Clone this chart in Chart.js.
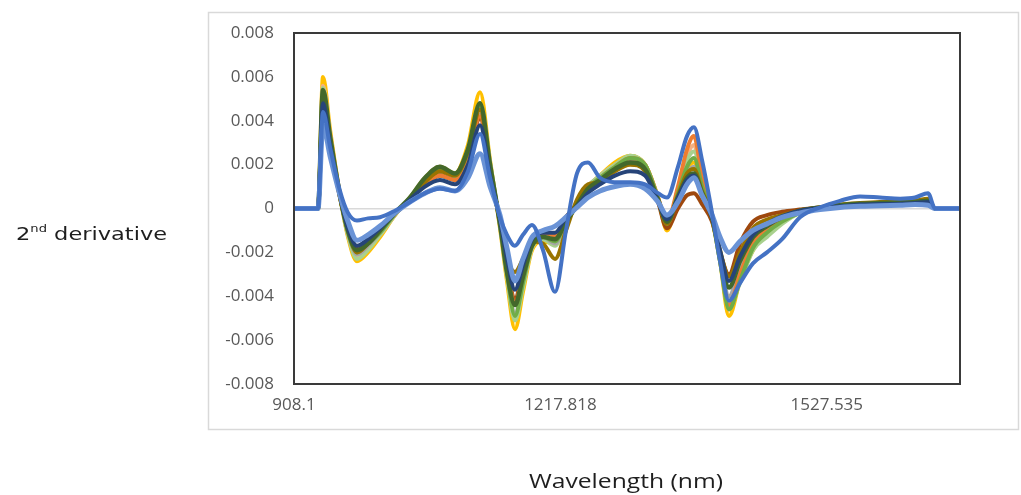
<!DOCTYPE html>
<html><head><meta charset="utf-8">
<script src="https://cdn.jsdelivr.net/npm/chart.js@4/dist/chart.umd.min.js"></script>
<style>html,body{margin:0;padding:0;background:#fff;}canvas{display:block;}</style>
</head><body>
<canvas id="c" width="1021" height="495"></canvas>
<script>
// ---- data ----
const wavelengths = [908.1, 936.0, 941.8, 950.0, 961.6, 970.9, 981.3, 994.1, 1008.1, 1025.5,
  1043.0, 1060.4, 1077.8, 1095.3, 1110.4, 1124.4, 1136.0, 1147.6, 1155.7, 1165.0,
  1174.3, 1184.8, 1197.6, 1211.6, 1224.3, 1237.1, 1249.9, 1263.9, 1281.3, 1298.8,
  1316.2, 1331.3, 1341.7, 1354.5, 1365.0, 1373.1, 1382.5, 1394.1, 1403.4, 1413.8,
  1426.6, 1441.7, 1458.0, 1475.5, 1496.4, 1519.7, 1542.9, 1566.2, 1589.4, 1612.7,
  1630.1, 1645.2, 1653.4, 1682.4];
const xTickValues = [908.1, 1217.818, 1527.535];
const xTickLabels = ['908.1', '1217.818', '1527.535'];
const yTickValues = [-0.008, -0.006, -0.004, -0.002, 0, 0.002, 0.004, 0.006, 0.008];
const yTickLabels = ['-0.008', '-0.006', '-0.004', '-0.002', '0', '0.002', '0.004', '0.006', '0.008'];

const sampleOutlier = [0,0,0.0044,0.0028,0.0008,-0.0002,-0.00055,-0.00045,-0.0004,-0.0001,
  0.0003,0.0007,0.0009,0.0008,0.0017,0.0034,0.0014,-0.0004,-0.0012,-0.0017,
  -0.0012,-0.00075,-0.0019,-0.0038,-0.001,0.0016,0.0021,0.0014,0.0012,0.0012,
  0.0011,0.0007,0.0005,0.0019,0.0033,0.0037,0.0022,-0.0002,-0.0024,-0.0042,
  -0.0034,-0.0025,-0.002,-0.0014,-0.0004,0.00005,0.00035,0.00055,0.0005,0.00045,
  0.0005,0.0007,0,0];
const sampleFront = [0,0,0.0038,0.0024,0.0006,-0.0006,-0.00145,-0.0012,-0.0008,-0.0002,
  0.0003,0.0007,0.00095,0.0008,0.0014,0.0025,0.001,-0.0003,-0.0018,-0.0033,
  -0.0023,-0.0013,-0.001,-0.0008,-0.0004,0.00005,0.0005,0.0008,0.001,0.0011,
  0.0009,0.0003,-0.0003,0.0003,0.0011,0.0014,0.0006,-0.0003,-0.0013,-0.002,
  -0.0015,-0.001,-0.0007,-0.0004,-0.0002,-0.00005,0.00005,0.0001,0.00012,0.00015,
  0.00018,0.00015,0,0];
const sampleDarkBlue = [0,0,0.0048,0.0029,0.0006,-0.0009,-0.0017,-0.0014,-0.0009,-0.0002,
  0.0004,0.001,0.0013,0.0011,0.002,0.0038,0.0015,-0.0005,-0.0023,-0.0037,
  -0.0026,-0.0014,-0.0011,-0.0011,-0.0004,0.0001,0.0007,0.0011,0.0015,0.0017,
  0.0015,0.0003,-0.0005,0.0005,0.0013,0.0015,0.0006,-0.0004,-0.0019,-0.0033,
  -0.0022,-0.0012,-0.0007,-0.00035,-0.0001,0.00002,0.0001,0.00018,0.0002,0.00022,
  0.00025,0.0003,0,0];
const sampleDarkGreen = [0,0,0.0054,0.0033,0.0006,-0.001,-0.0019,-0.0016,-0.001,-0.0002,
  0.0005,0.0014,0.0019,0.0016,0.0027,0.0048,0.002,-0.0007,-0.0029,-0.0044,
  -0.0031,-0.0017,-0.0013,-0.0014,-0.0006,0.00015,0.0009,0.0013,0.0018,0.0021,
  0.0018,0.0004,-0.0006,0.0005,0.0014,0.0016,0.0007,-0.0004,-0.0021,-0.0036,
  -0.0024,-0.0013,-0.0008,-0.0004,-0.0001,0.00005,0.00015,0.00022,0.00025,0.00027,
  0.0003,0.00035,0,0];
const sampleOlive = [0,0,0.005,0.003,0.0005,-0.001,-0.002,-0.0016,-0.001,-0.0002,
  0.0004,0.0012,0.0017,0.0015,0.0026,0.0045,0.0018,-0.0006,-0.0022,-0.0029,
  -0.0023,-0.0015,-0.0016,-0.0023,-0.001,0.0004,0.0011,0.0012,0.0017,0.002,
  0.0017,0.0004,-0.0007,0.0006,0.0016,0.0018,0.0008,-0.0003,-0.0019,-0.0031,
  -0.002,-0.0009,-0.0005,-0.0003,-0.0001,0.00005,0.00018,0.00025,0.0003,0.00032,
  0.00035,0.00045,0,0];
const sampleGreen = [0,0,0.0053,0.0032,0.0006,-0.0011,-0.002,-0.0016,-0.0011,-0.00025,
  0.00045,0.0013,0.0018,0.0015,0.0026,0.0046,0.0019,-0.0007,-0.0029,-0.0049,
  -0.0034,-0.0017,-0.0013,-0.0015,-0.0006,0.0002,0.00095,0.0014,0.0019,0.0023,
  0.002,0.00045,-0.0007,0.0007,0.0019,0.0023,0.001,-0.0004,-0.0024,-0.0046,
  -0.0033,-0.0018,-0.0011,-0.0006,-0.0002,0,0.00012,0.0002,0.00022,0.00025,
  0.00028,0.0003,0,0];
const sampleOrange = [0,0,0.0051,0.0031,0.0006,-0.001,-0.0019,-0.0015,-0.001,-0.00025,
  0.0004,0.0011,0.0015,0.0013,0.0023,0.0042,0.0017,-0.0006,-0.0026,-0.0043,
  -0.0029,-0.0014,-0.0011,-0.0012,-0.0005,0.0002,0.0009,0.0014,0.0019,0.0023,
  0.002,0.0005,-0.0006,0.001,0.0027,0.0033,0.0014,-0.0003,-0.0023,-0.0044,
  -0.003,-0.0016,-0.0009,-0.0005,-0.00015,0.00002,0.0001,0.00018,0.0002,0.00022,
  0.00025,0.0003,0,0];
const sampleBrown = [0,0,0.0049,0.0029,0.0005,-0.0009,-0.0018,-0.0014,-0.0009,-0.0002,
  0.0004,0.0011,0.0015,0.0013,0.0023,0.0041,0.0017,-0.0006,-0.0026,-0.0041,
  -0.0028,-0.0014,-0.0011,-0.0012,-0.0004,0.0002,0.0009,0.0013,0.0018,0.0021,
  0.0018,0.0003,-0.0009,0,0.0006,0.0007,0.0002,-0.0006,-0.002,-0.003,
  -0.0016,-0.0006,-0.0003,-0.00015,-0.00005,0.00005,0.00012,0.00018,0.0002,0.00022,
  0.00025,0.0003,0,0];
const sampleGray = [0,0,0.0052,0.0032,0.0006,-0.0011,-0.0021,-0.0017,-0.0011,-0.00025,
  0.00045,0.0012,0.0016,0.0014,0.0024,0.0043,0.0018,-0.0007,-0.0028,-0.0048,
  -0.0033,-0.0017,-0.0013,-0.0016,-0.0006,0.00015,0.0009,0.0013,0.0018,0.0021,
  0.0018,0.0004,-0.0008,0.0006,0.0016,0.0019,0.0008,-0.0004,-0.0022,-0.004,
  -0.0027,-0.0015,-0.0009,-0.0005,-0.00015,0.00003,0.00012,0.0002,0.00022,0.00025,
  0.00027,0.00032,0,0];
const sampleLightGreen = [0,0,0.0055,0.0033,0.0005,-0.0012,-0.0023,-0.0019,-0.0012,-0.0003,
  0.0005,0.0013,0.0018,0.0015,0.0027,0.0048,0.0021,-0.0008,-0.0031,-0.0051,
  -0.0036,-0.0018,-0.0014,-0.0017,-0.0006,0.0002,0.001,0.0015,0.002,0.0024,
  0.002,0.0005,-0.0008,0.0008,0.0022,0.0026,0.0012,-0.0004,-0.0024,-0.0045,
  -0.0034,-0.0019,-0.0013,-0.0007,-0.0002,0,0.00012,0.0002,0.00022,0.00025,
  0.00028,0.0003,0,0];
const samplePeach = [0,0,0.0056,0.0034,0.0006,-0.0012,-0.0022,-0.0018,-0.0012,-0.0003,
  0.0005,0.0013,0.0018,0.0015,0.0026,0.0046,0.002,-0.0008,-0.003,-0.005,
  -0.0035,-0.0018,-0.0014,-0.0015,-0.0006,0.0002,0.001,0.0015,0.002,0.0023,
  0.002,0.0005,-0.0008,0.0009,0.0024,0.0029,0.0012,-0.0004,-0.0023,-0.0046,
  -0.0032,-0.0017,-0.001,-0.0005,-0.00015,0.00005,0.00015,0.0002,0.00022,0.00025,
  0.00028,0.00035,0,0];
const sampleGold = [0,0,0.006,0.0036,0.0006,-0.0013,-0.0024,-0.002,-0.0013,-0.0003,
  0.0005,0.0014,0.0019,0.0016,0.0029,0.0053,0.0022,-0.0009,-0.0033,-0.0055,
  -0.0038,-0.0019,-0.0015,-0.0016,-0.0007,0.0002,0.001,0.0015,0.0021,0.0024,
  0.002,0.0005,-0.001,0.0006,0.0018,0.0021,0.0009,-0.0005,-0.0024,-0.0049,
  -0.0033,-0.0019,-0.0011,-0.0005,-0.00015,0.00005,0.00015,0.00022,0.00025,0.00028,
  0.0003,0.0004,0,0];

// ---- styling (first entry drawn on top) ----
const seriesList = [
  { name: 'Sample 1', values: sampleOutlier, color: '#4472C4', width: 4 },
  { name: 'Sample 2', values: sampleFront, color: '#6A93D6', width: 5 },
  { name: 'Sample 3', values: sampleDarkBlue, color: '#264478', width: 4 },
  { name: 'Sample 4', values: sampleDarkGreen, color: '#43682B', width: 4.5 },
  { name: 'Sample 5', values: sampleOlive, color: '#997300', width: 4 },
  { name: 'Sample 6', values: sampleGreen, color: '#70AD47', width: 4 },
  { name: 'Sample 7', values: sampleOrange, color: '#ED7D31', width: 4 },
  { name: 'Sample 8', values: sampleBrown, color: '#9E480E', width: 4 },
  { name: 'Sample 9', values: sampleGray, color: '#A5A5A5', width: 4 },
  { name: 'Sample 10', values: sampleLightGreen, color: '#A9D18E', width: 4 },
  { name: 'Sample 11', values: samplePeach, color: '#F4B183', width: 4 },
  { name: 'Sample 12', values: sampleGold, color: '#FFC000', width: 4 }
];

const datasets = seriesList.map(s => ({
  label: s.name,
  data: wavelengths.map((w, i) => ({ x: w, y: s.values[i] })),
  borderColor: s.color,
  backgroundColor: s.color,
  borderWidth: s.width,
  pointRadius: 0,
  fill: false,
  cubicInterpolationMode: 'monotone',
  borderJoinStyle: 'round',
  borderCapStyle: 'round'
}));

const framePlugin = {
  id: 'framePlugin',
  beforeDraw(chart) {
    const c = chart.ctx;
    c.save();
    c.fillStyle = '#ffffff';
    c.fillRect(0, 0, chart.width, chart.height);
    c.strokeStyle = '#d9d9d9';
    c.lineWidth = 1.5;
    c.strokeRect(208.5, 12.5, 810, 417);
    c.restore();
  },
  afterDatasetsDraw(chart) {
    const c = chart.ctx, a = chart.chartArea;
    c.save();
    c.strokeStyle = '#3a3a3a';
    c.lineWidth = 2;
    c.strokeRect(a.left, a.top, a.right - a.left, a.bottom - a.top);
    c.restore();
  },
  afterDraw(chart) {
    const c = chart.ctx;
    c.save();
    c.fillStyle = '#1e1e1e';
    c.textBaseline = 'alphabetic';
    // y title: 2nd derivative (horizontal)
    c.translate(16, 240);
    c.scale(1.25, 1);
    c.font = '18px "DejaVu Sans"';
    c.fillText('2', 0, 0);
    let x = c.measureText('2').width;
    c.font = '10.5px "DejaVu Sans"';
    c.fillText('nd', x, -8);
    x += c.measureText('nd').width;
    c.font = '18px "DejaVu Sans"';
    c.fillText(' derivative', x, 0);
    c.restore();
    // x title
    c.save();
    c.fillStyle = '#1e1e1e';
    c.font = '20px "Open Sans"';
    const t = 'Wavelength (nm)';
    const w = c.measureText(t).width;
    c.translate(626, 488);
    c.scale(194 / w, 1);
    c.textAlign = 'center';
    c.fillText(t, 0, 0);
    c.restore();
  }
};

new Chart(document.getElementById('c'), {
  type: 'line',
  data: { datasets },
  plugins: [framePlugin],
  options: {
    responsive: false,
    animation: false,
    devicePixelRatio: 1,
    layout: { padding: { top: 33, right: 61, left: 0, bottom: 0 } },
    plugins: { legend: { display: false }, tooltip: { enabled: false } },
    scales: {
      x: {
        type: 'linear',
        min: 908.1,
        max: 1682.4,
        afterBuildTicks: s => { s.ticks = xTickValues.map(v => ({ value: v })); },
        afterFit: s => { s.height = 111; },
        ticks: {
          autoSkip: false, maxRotation: 0, minRotation: 0,
          color: '#595959', padding: 11,
          font: { family: '"Open Sans"', size: 17 },
          callback: (v, i) => xTickLabels[i]
        },
        grid: { display: false, drawTicks: false },
        border: { display: false }
      },
      y: {
        type: 'linear',
        min: -0.008,
        max: 0.008,
        afterBuildTicks: s => { s.ticks = yTickValues.map(v => ({ value: v })); },
        afterFit: s => { s.width = 294; },
        ticks: {
          color: '#595959', padding: 20,
          font: { family: '"Open Sans"', size: 17 },
          callback: (v, i) => yTickLabels[i]
        },
        grid: {
          drawTicks: false,
          lineWidth: 1.5,
          color: ctx => (ctx.tick && ctx.tick.value === 0) ? '#d9d9d9' : 'rgba(0,0,0,0)'
        },
        border: { display: false }
      }
    }
  }
});
</script>
</body></html>
